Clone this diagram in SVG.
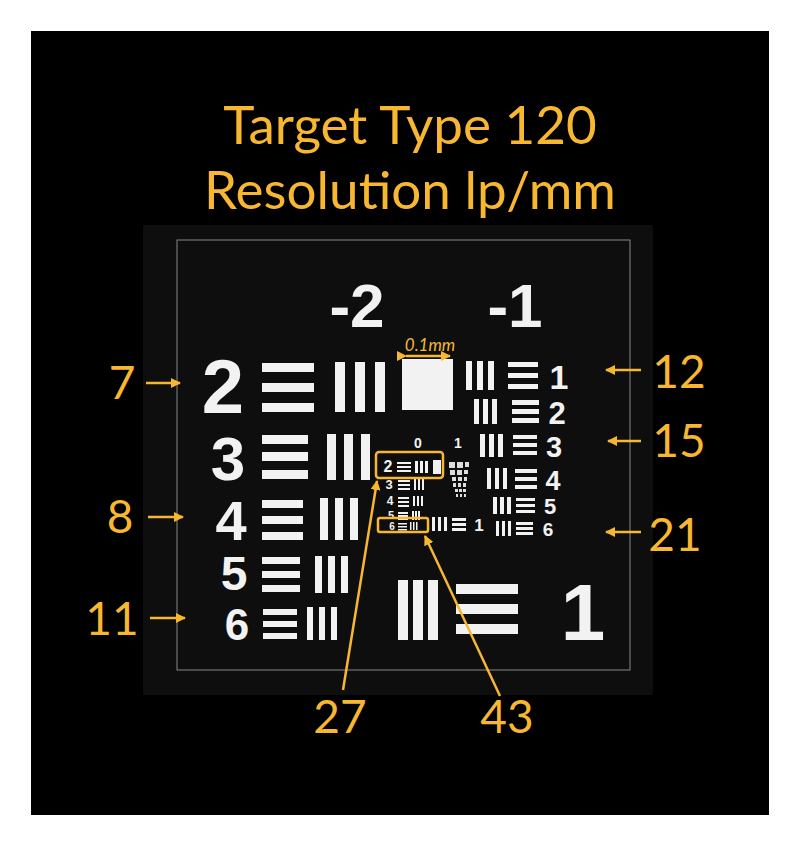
<svg xmlns="http://www.w3.org/2000/svg" width="800" height="846" viewBox="0 0 800 846">
<defs>
<style>
.y{fill:#f7b731;font-family:Lato,"Open Sans",sans-serif}
.w{fill:#f2f2f2}
.n{fill:#f2f2f2;font-family:"Liberation Sans",Arial,sans-serif;font-weight:bold;text-anchor:middle}
.l{stroke:#f7b731;stroke-width:2.5;fill:none}
</style>
<marker id="a" viewBox="0 0 10 10" refX="9" refY="5" markerWidth="4" markerHeight="4" orient="auto"><path d="M0,0L10,5L0,10z" fill="#f7b731"/></marker>
</defs>
<rect width="800" height="846" fill="#fff"/>
<rect x="31" y="31" width="738" height="784" fill="#000"/>
<rect x="143" y="225" width="510" height="470" fill="#0e0e0e"/>
<rect x="177" y="240" width="453" height="430" fill="none" stroke="#888" stroke-width="1"/>
<g id="title" class="y" font-size="53" text-anchor="middle">
<text x="410" y="144">Target Type 120</text>
<text x="410" y="209">Resolution lp/mm</text>
</g>
<g id="target" class="w">
<text class="n" x="357" y="327" font-size="62">-2</text>
<text class="n" x="515" y="327" font-size="62">-1</text>
<text class="n" x="223" y="413" font-size="76">2</text>
<rect x="262" y="363" width="52" height="9"/><rect x="262" y="383" width="52" height="9"/><rect x="262" y="403" width="52" height="9"/>
<rect x="335" y="362" width="10" height="50"/><rect x="355" y="362" width="10" height="50"/><rect x="375" y="362" width="10" height="50"/>
<text class="n" x="228" y="480" font-size="62">3</text>
<rect x="262" y="435" width="46" height="9"/><rect x="262" y="452" width="46" height="9"/><rect x="262" y="470" width="46" height="9"/>
<rect x="327" y="434" width="9" height="46"/><rect x="344" y="434" width="9" height="46"/><rect x="361" y="434" width="9" height="46"/>
<text class="n" x="231" y="540" font-size="56">4</text>
<rect x="262" y="500" width="41" height="8"/><rect x="262" y="516" width="41" height="8"/><rect x="262" y="532" width="41" height="8"/>
<rect x="320" y="498" width="8" height="42"/><rect x="335" y="498" width="8" height="42"/><rect x="350" y="498" width="8" height="42"/>
<text class="n" x="234" y="590" font-size="48">5</text>
<rect x="262" y="557" width="38" height="7"/><rect x="262" y="571" width="38" height="7"/><rect x="262" y="585" width="38" height="7"/>
<rect x="315" y="556" width="7" height="37"/><rect x="328" y="556" width="7" height="37"/><rect x="341" y="556" width="7" height="37"/>
<text class="n" x="237" y="640" font-size="44">6</text>
<rect x="263" y="609" width="34" height="6"/><rect x="263" y="621" width="34" height="6"/><rect x="263" y="633" width="34" height="6"/>
<rect x="307" y="607" width="6" height="33"/><rect x="319" y="607" width="6" height="33"/><rect x="331" y="607" width="6" height="33"/>
<rect x="402" y="359" width="51" height="51"/>
<rect x="466" y="361" width="6" height="29"/><rect x="477" y="361" width="6" height="29"/><rect x="488" y="361" width="6" height="29"/>
<rect x="508" y="362" width="30" height="5"/><rect x="508" y="373" width="30" height="5"/><rect x="508" y="384" width="30" height="5"/>
<text class="n" x="559" y="389" font-size="34">1</text>
<rect x="474" y="399" width="5" height="25"/><rect x="483" y="399" width="5" height="25"/><rect x="492" y="399" width="5" height="25"/>
<rect x="512" y="400" width="27" height="5"/><rect x="512" y="409" width="27" height="5"/><rect x="512" y="418" width="27" height="5"/>
<text class="n" x="557" y="424" font-size="31">2</text>
<rect x="480" y="434" width="5" height="23"/><rect x="489" y="434" width="5" height="23"/><rect x="498" y="434" width="5" height="23"/>
<rect x="513" y="435" width="24" height="4"/><rect x="513" y="443" width="24" height="4"/><rect x="513" y="451" width="24" height="4"/>
<text class="n" x="554" y="457" font-size="29">3</text>
<rect x="487" y="468" width="4" height="21"/><rect x="495" y="468" width="4" height="21"/><rect x="503" y="468" width="4" height="21"/>
<rect x="515" y="469" width="22" height="4"/><rect x="515" y="477" width="22" height="4"/><rect x="515" y="485" width="22" height="4"/>
<text class="n" x="553" y="490" font-size="27">4</text>
<rect x="493" y="497" width="4" height="17"/><rect x="500" y="497" width="4" height="17"/><rect x="507" y="497" width="4" height="17"/>
<rect x="516" y="498" width="19" height="3"/><rect x="516" y="504" width="19" height="3"/><rect x="516" y="510" width="19" height="3"/>
<text class="n" x="550" y="514" font-size="22">5</text>
<rect x="496" y="521" width="3" height="15"/><rect x="502" y="521" width="3" height="15"/><rect x="508" y="521" width="3" height="15"/>
<rect x="516" y="522" width="17" height="3"/><rect x="516" y="527" width="17" height="3"/><rect x="516" y="532" width="17" height="3"/>
<text class="n" x="548" y="536" font-size="19">6</text>
<text class="n" x="418" y="448" font-size="14">0</text><text class="n" x="458" y="448" font-size="14">1</text>
<text class="n" x="388" y="472" font-size="16">2</text>
<rect x="397" y="462" width="14" height="2"/><rect x="397" y="466" width="14" height="2"/><rect x="397" y="470" width="14" height="2"/>
<rect x="415" y="461" width="3" height="12"/><rect x="420" y="461" width="3" height="12"/><rect x="425" y="461" width="3" height="12"/>
<rect x="433" y="460" width="8" height="14"/>
<text class="n" x="389" y="489" font-size="13">3</text>
<rect x="398" y="480" width="12" height="2"/><rect x="398" y="484" width="12" height="2"/><rect x="398" y="488" width="12" height="2"/>
<rect x="414" y="479" width="2" height="11"/><rect x="418" y="479" width="2" height="11"/><rect x="422" y="479" width="2" height="11"/>
<text class="n" x="390" y="505" font-size="12">4</text>
<rect x="398" y="497" width="11" height="2"/><rect x="398" y="501" width="11" height="2"/><rect x="398" y="505" width="11" height="2"/>
<rect x="413" y="496" width="2" height="10"/><rect x="417" y="496" width="2" height="10"/><rect x="421" y="496" width="2" height="10"/>
<text class="n" x="391" y="519" font-size="11">5</text>
<rect x="398" y="512" width="10" height="2"/><rect x="398" y="515" width="10" height="2"/><rect x="398" y="518" width="10" height="2"/>
<rect x="412" y="511" width="2" height="9"/><rect x="415" y="511" width="2" height="9"/><rect x="418" y="511" width="2" height="9"/>
<text class="n" x="392" y="530" font-size="10">6</text>
<rect x="398" y="523" width="9" height="1.5"/><rect x="398" y="526" width="9" height="1.5"/><rect x="398" y="529" width="9" height="1.5"/>
<rect x="410" y="522" width="1.5" height="8"/><rect x="413" y="522" width="1.5" height="8"/><rect x="416" y="522" width="1.5" height="8"/>
<rect x="432" y="517" width="3" height="14"/><rect x="438" y="517" width="3" height="14"/><rect x="444" y="517" width="3" height="14"/>
<rect x="452" y="518" width="14" height="3"/><rect x="452" y="523" width="14" height="3"/><rect x="452" y="528" width="14" height="3"/>
<text class="n" x="479" y="531" font-size="17">1</text>
<g fill="#ddd">
<rect x="449" y="462" width="6" height="6"/><rect x="457" y="462" width="6" height="6"/><rect x="465" y="462" width="4" height="5"/>
<rect x="450" y="470" width="5" height="5"/><rect x="457" y="470" width="5" height="5"/><rect x="464" y="470" width="4" height="4"/>
<rect x="452" y="477" width="4" height="4"/><rect x="458" y="477" width="4" height="4"/><rect x="464" y="477" width="3" height="4"/>
<rect x="453" y="483" width="3" height="4"/><rect x="458" y="483" width="3" height="4"/><rect x="463" y="483" width="3" height="4"/>
<rect x="455" y="489" width="3" height="3"/><rect x="459" y="489" width="3" height="3"/><rect x="463" y="489" width="3" height="3"/>
<rect x="456" y="494" width="2" height="3"/><rect x="460" y="494" width="2" height="3"/><rect x="464" y="494" width="2" height="3"/>
</g>
<rect x="398" y="580" width="10" height="60"/><rect x="413" y="580" width="10" height="60"/><rect x="428" y="580" width="10" height="60"/>
<rect x="456" y="584" width="62" height="10"/><rect x="456" y="604" width="62" height="10"/><rect x="456" y="624" width="62" height="10"/>
<text class="n" x="583" y="640" font-size="80">1</text>
</g>
<g id="scale">
<text class="y" x="430" y="351" font-size="17" font-style="italic" text-anchor="middle">0.1mm</text>
<path class="l" d="M406,356H450" stroke-width="2" marker-start="url(#a)" marker-end="url(#a)"/>
</g>
<g id="boxes">
<rect class="l" x="376" y="452" width="67" height="26" rx="3"/>
<rect class="l" x="378" y="518" width="50" height="14" rx="2"/>
</g>
<g id="connectors">
<path class="l" d="M146,383H180" marker-end="url(#a)"/>
<path class="l" d="M148,517H183" marker-end="url(#a)"/>
<path class="l" d="M150,618H185" marker-end="url(#a)"/>
<path class="l" d="M641,370H606" marker-end="url(#a)"/>
<path class="l" d="M641,441H608" marker-end="url(#a)"/>
<path class="l" d="M641,532H606" marker-end="url(#a)"/>
<path class="l" d="M343,690L377,481" marker-end="url(#a)"/>
<path class="l" d="M500,696L425,536" marker-end="url(#a)"/>
</g>
<g id="labels" class="y" font-size="46" text-anchor="middle">
<text x="122" y="399">7</text>
<text x="120" y="533">8</text>
<text x="112" y="635">11</text>
<text x="679" y="388">12</text>
<text x="679" y="457">15</text>
<text x="675" y="551">21</text>
<text x="340" y="733">27</text>
<text x="507" y="733">43</text>
</g>
</svg>
